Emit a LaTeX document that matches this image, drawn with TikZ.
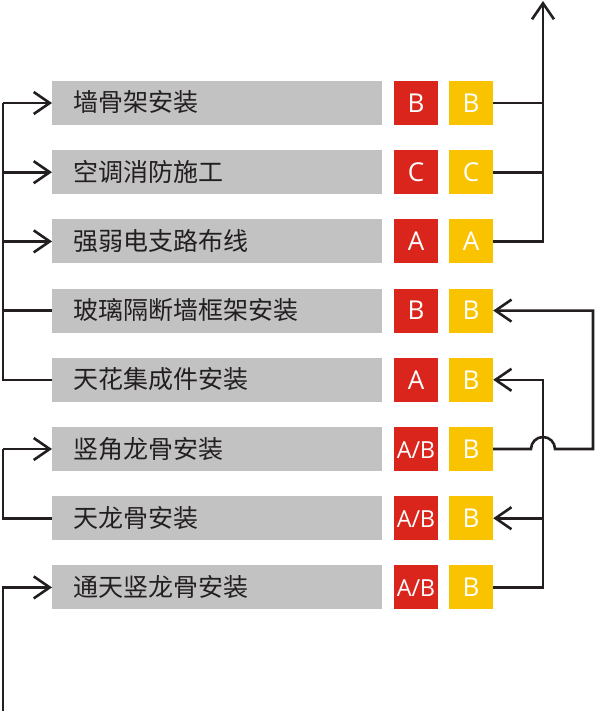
\documentclass[tikz,border=0pt]{standalone}
\usepackage{fontspec}
\setmainfont{Open Sans}
\newfontfamily\cjk{Noto Sans CJK SC}
\usetikzlibrary{arrows.meta}
\definecolor{gbox}{HTML}{C2C2C2}
\definecolor{rbox}{HTML}{DA251D}
\definecolor{ybox}{HTML}{F9C300}
\definecolor{ink}{HTML}{231F20}
\newcommand{\myAB}{{\fontsize{23.5bp}{24bp}\selectfont A\kern-0.3pt/\kern-0.3pt B}}
\tikzset{
  graybox/.style={fill=gbox, draw=none, anchor=west, minimum width=330bp, minimum height=44bp,
    text width=288bp, inner xsep=21bp, inner ysep=0pt, align=left, text=ink,
    text height=21bp, text depth=3bp,
    font=\cjk\fontsize{25bp}{28bp}\selectfont},
  redbox/.style={fill=rbox, draw=none, minimum size=44bp, inner sep=0pt, text=white,
    text height=18.6bp, text depth=0pt,
    font=\fontsize{26bp}{28bp}\selectfont},
  yelbox/.style={fill=ybox, draw=none, minimum size=44bp, inner sep=0pt, text=white,
    text height=18.6bp, text depth=0pt,
    font=\fontsize{26bp}{28bp}\selectfont},
  wire/.style={draw=ink, line width=2.6bp},
  arr/.style={wire, -{Straight Barb[length=16bp,width=22bp,line width=2.6bp]}},
}
\begin{document}
\begin{tikzpicture}[x=1bp,y=-1bp]
\useasboundingbox (0,0) rectangle (595,711);
% rows
\foreach \i/\t/\r/\yl in {
  1/墙骨架安装/B/B,
  2/空调消防施工/C/C,
  3/强弱电支路布线/A/A,
  4/玻璃隔断墙框架安装/B/B,
  5/天花集成件安装/A/B,
  6/竖角龙骨安装/\myAB/B,
  7/天龙骨安装/\myAB/B,
  8/通天竖龙骨安装/\myAB/B}{
  \pgfmathsetmacro{\yy}{103+69.2*(\i-1)}
  \node[graybox] (g\i) at (52,\yy) {\t};
  \node[redbox] (r\i) at (416,\yy) {\r};
  \node[yelbox] (y\i) at (471,\yy) {\yl};
}
% bus coordinates
\coordinate (lb) at (3,0);
\coordinate (bot) at (3,711);
\coordinate (mx) at (543,0);
\coordinate (rx) at (593,0);
\coordinate (top) at (543,1);
% left upper group
\draw[wire] (g5.west) -- (lb |- g5.west) -- (lb |- g1.west);
\draw[arr] (lb |- g1.west) -- (g1.west);
\draw[arr] (lb |- g2.west) -- (g2.west);
\draw[arr] (lb |- g3.west) -- (g3.west);
\draw[wire] (lb |- g4.west) -- (g4.west);
% left lower group
\draw[wire] (g7.west) -- (lb |- g7.west) -- (lb |- g6.west);
\draw[arr] (lb |- g6.west) -- (g6.west);
\draw[arr] (bot) |- (g8.west);
% right top
\draw[arr] (y3.east) -| (top);
\draw[wire] (y1.east) -- (mx |- y1.east);
\draw[wire] (y2.east) -- (mx |- y2.east);
% right lower: inner bus
\draw[arr] (y8.east) -- (mx |- y8.east) |- (y5.east);
\draw[arr] (mx |- y7.east) -- (y7.east);
% right lower: outer with jump
\coordinate (j) at ([xshift=-12bp]mx |- y6.east);
\draw[arr] (y6.east) -- (j) arc[start angle=180, end angle=0, x radius=12bp, y radius=12bp]
  -- (rx |- y6.east) |- (y4.east);
\end{tikzpicture}
\end{document}
